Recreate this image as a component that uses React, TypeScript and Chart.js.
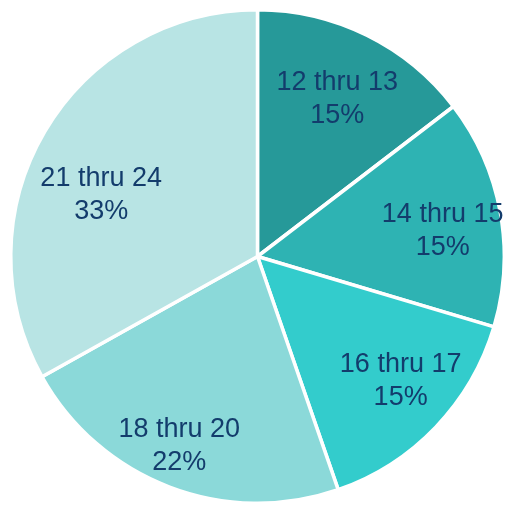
import React, { useEffect, useRef } from "react";
import { Chart, registerables } from "chart.js";

Chart.register(...registerables);

const categories = ["12 thru 13", "14 thru 15", "16 thru 17", "18 thru 20", "21 thru 24"];
const shares = [14.6, 15.0, 15.1, 22.2, 33.1];
const sliceColors = ["#269999", "#2eb3b3", "#33cccc", "#8bd9d9", "#b8e4e4"];

// best-fit label nudges (pixels) relative to the mid-angle anchor
const labelNudge: [number, number][] = [
  [0, 4],
  [8, 7],
  [13, 0],
  [-14, 21],
  [-1, 29],
];

const labelPlugin = {
  id: "sliceLabels",
  afterDatasetsDraw(chart: any) {
    const ctx = chart.ctx;
    const meta = chart.getDatasetMeta(0);
    const data = chart.data.datasets[0].data as number[];
    const total = data.reduce((a, b) => a + b, 0);
    ctx.save();
    ctx.font = '27px "Liberation Sans", Arial, sans-serif';
    ctx.fillStyle = "#133c6c";
    ctx.textAlign = "center";
    ctx.textBaseline = "middle";
    meta.data.forEach((arc: any, i: number) => {
      const { x, y, startAngle, endAngle, outerRadius } = arc.getProps(
        ["x", "y", "startAngle", "endAngle", "outerRadius"],
        true
      );
      const mid = (startAngle + endAngle) / 2;
      const r = outerRadius * 0.73;
      const cx = x + Math.cos(mid) * r + labelNudge[i][0];
      const cy = y + Math.sin(mid) * r + labelNudge[i][1];
      const pct = Math.round((data[i] / total) * 100) + "%";
      ctx.fillText(chart.data.labels[i], cx, cy - 16);
      ctx.fillText(pct, cx, cy + 17);
    });
    ctx.restore();
  },
};

export default function App() {
  const ref = useRef<HTMLCanvasElement | null>(null);
  useEffect(() => {
    if (!ref.current) return;
    const chart = new Chart(ref.current, {
      type: "pie",
      data: {
        labels: categories,
        datasets: [
          {
            data: shares,
            backgroundColor: sliceColors,
            borderColor: "#ffffff",
            borderWidth: 3.5,
          },
        ],
      },
      options: {
        animation: false,
        responsive: false,
        layout: { padding: { left: 9, right: 0, top: 7, bottom: 0 } },
        plugins: {
          legend: { display: false },
          tooltip: { enabled: false },
        },
      },
      plugins: [labelPlugin],
    });
    return () => chart.destroy();
  }, []);
  return (
    <div style={{ position: "absolute", left: 0, top: 0, width: 506, height: 506, background: "#fff" }}>
      <canvas ref={ref} width={506} height={506} style={{ width: 506, height: 506 }} />
    </div>
  );
}
